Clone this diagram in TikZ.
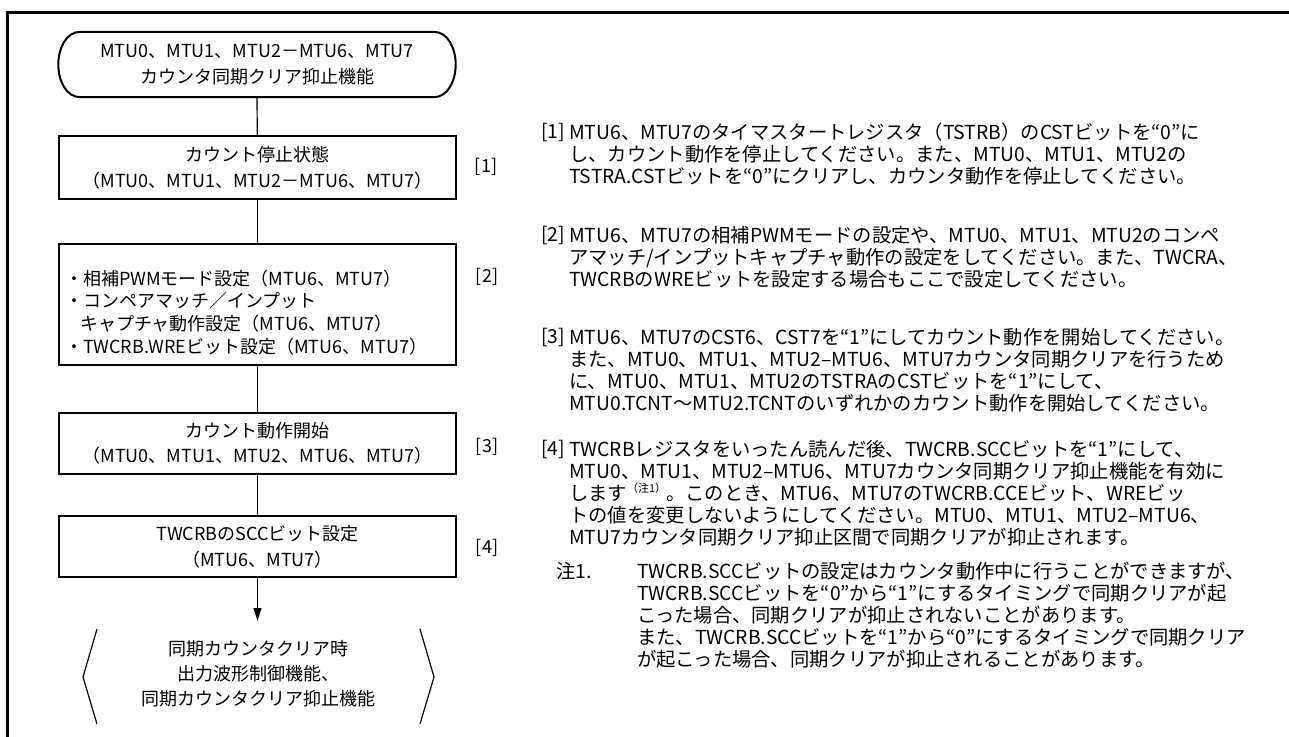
\documentclass[tikz,border=0pt]{standalone}
\usepackage{fontspec}
\setmainfont{Noto Sans CJK JP}
\usetikzlibrary{arrows.meta,calc}
\begin{document}
\begin{tikzpicture}[x=1pt,y=-1pt,
  flowfont/.style={font=\fontsize{18}{26}\selectfont},
  procbox/.style={draw, line width=2.3pt, minimum width=397pt, inner sep=0pt, align=center, flowfont},
  termbox/.style={minimum width=397pt, minimum height=65pt, inner sep=0pt, align=center, flowfont},
  termline/.style={line width=2pt},
  conn/.style={line width=1.2pt},
  steplabel/.style={inner sep=0pt, flowfont},
  rlabel/.style={anchor=north west, inner sep=0pt, font=\fontsize{19.3}{22}\selectfont},
  rtext/.style={anchor=north west, inner sep=0pt, align=left, font=\fontsize{19.3}{22}\selectfont}
]
\useasboundingbox (0,0) rectangle (1289,736);
% outer frame
\draw[line width=3pt] (7,745) -- (7,12) -- (1300,12);

% flowchart
\node[termbox] (start) at (257,64.5) {MTU0、MTU1、MTU2－MTU6、MTU7\\カウンタ同期クリア抑止機能};
\draw[termline] ($(start.north west)+(22,0)$) -- ($(start.north east)+(-22,0)$)
  .. controls ($(start.north east)+(-8,0)$) and ($(start.east)+(0,-16.5)$) .. (start.east)
  .. controls ($(start.east)+(0,16.5)$) and ($(start.south east)+(-8,0)$) .. ($(start.south east)+(-22,0)$)
  -- ($(start.south west)+(22,0)$)
  .. controls ($(start.south west)+(8,0)$) and ($(start.west)+(0,16.5)$) .. (start.west)
  .. controls ($(start.west)+(0,-16.5)$) and ($(start.north west)+(8,0)$) .. ($(start.north west)+(22,0)$) -- cycle;

\node[procbox, minimum height=63pt] (s1) at (257.5,167.5) {カウント停止状態\\（MTU0、MTU1、MTU2－MTU6、MTU7）};
\node[procbox, minimum height=121pt, text width=385pt, inner xsep=6pt, align=left, font=\fontsize{18}{22.7}\selectfont] (s2) at (257.5,304.5)
  {\rule{0pt}{31pt}・相補PWMモード設定（MTU6、MTU7）\\・コンペアマッチ／インプット\\\hspace*{15pt}キャプチャ動作設定（MTU6、MTU7）\\・TWCRB.WREビット設定（MTU6、MTU7）};
\node[procbox, minimum height=61pt, font=\fontsize{18}{25}\selectfont] (s3) at (257.5,443.5) {カウント動作開始\\（MTU0、MTU1、MTU2、MTU6、MTU7）};
\node[procbox, minimum height=61pt] (s4) at (257.5,546.5) {TWCRBのSCCビット設定\\（MTU6、MTU7）};

\node[inner sep=0pt, align=center, font=\fontsize{18}{25}\selectfont] (fin) at (258,674) {同期カウンタクリア時\\出力波形制御機能、\\同期カウンタクリア抑止機能};
\coordinate (arrowend) at (257.5,621);
\coordinate (lbtop) at (97,629);
\coordinate (lbmid) at (83,677);
\coordinate (lbbot) at (97,724);
\coordinate (rbtop) at (420,629);
\coordinate (rbmid) at (434,677);
\coordinate (rbbot) at (420,724);
\draw[conn] (lbtop) -- (lbmid) -- (lbbot);
\draw[conn] (rbtop) -- (rbmid) -- (rbbot);

\draw[conn] (start.south) -- (s1);
\draw[conn] (s1) -- (s2);
\draw[conn] (s2) -- (s3);
\draw[conn] (s3) -- (s4);
\draw[conn, -{Triangle[length=13pt,width=8pt]}] (s4) -- (arrowend);

\node[steplabel] (l1) at (486,167) {[1]};
\node[steplabel] (l2) at (487,277) {[2]};
\node[steplabel] (l3) at (487,447) {[3]};
\node[steplabel] (l4) at (487,548) {[4]};

% right-hand notes
\node[rlabel] (n1) at (541,123) {[1]};
\node[rtext] (t1) at (569,123) {MTU6、MTU7のタイマスタートレジスタ（TSTRB）のCSTビットを“0”に\\し、カウント動作を停止してください。また、MTU0、MTU1、MTU2の\\TSTRA.CSTビットを“0”にクリアし、カウンタ動作を停止してください。};
\node[rlabel] (n2) at (541,226) {[2]};
\node[rtext] (t2) at (569,226) {MTU6、MTU7の相補PWMモードの設定や、MTU0、MTU1、MTU2のコンペ\\アマッチ/インプットキャプチャ動作の設定をしてください。また、TWCRA、\\TWCRBのWREビットを設定する場合もここで設定してください。};
\node[rlabel] (n3) at (541,328) {[3]};
\node[rtext] (t3) at (569,328) {MTU6、MTU7のCST6、CST7を“1”にしてカウント動作を開始してください。\\また、MTU0、MTU1、MTU2–MTU6、MTU7カウンタ同期クリアを行うため\\に、MTU0、MTU1、MTU2のTSTRAのCSTビットを“1”にして、\\MTU0.TCNT～MTU2.TCNTのいずれかのカウント動作を開始してください。};
\node[rlabel] (n4) at (541,440) {[4]};
\node[rtext] (t4) at (569,440) {TWCRBレジスタをいったん読んだ後、TWCRB.SCCビットを“1”にして、\\MTU0、MTU1、MTU2–MTU6、MTU7カウンタ同期クリア抑止機能を有効に\\します\raisebox{0.4em}{\fontsize{11}{11}\selectfont（注1）}。このとき、MTU6、MTU7のTWCRB.CCEビット、WREビッ\\トの値を変更しないようにしてください。MTU0、MTU1、MTU2–MTU6、\\MTU7カウンタ同期クリア抑止区間で同期クリアが抑止されます。};
\node[rlabel] (nn) at (556,562) {注1.};
\node[rtext] (tn) at (637,562) {TWCRB.SCCビットの設定はカウンタ動作中に行うことができますが、\\TWCRB.SCCビットを“0”から“1”にするタイミングで同期クリアが起\\こった場合、同期クリアが抑止されないことがあります。\\また、TWCRB.SCCビットを“1”から“0”にするタイミングで同期クリア\\が起こった場合、同期クリアが抑止されることがあります。};
\end{tikzpicture}
\end{document}
